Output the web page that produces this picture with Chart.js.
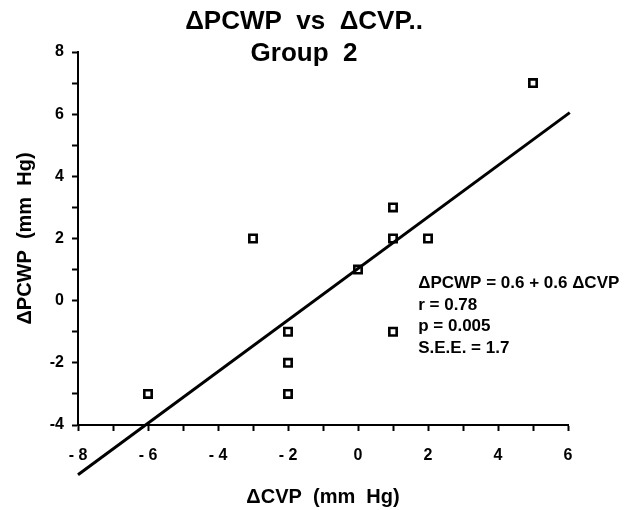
<!DOCTYPE html>
<html>
<head>
<meta charset="utf-8">
<script src="https://cdn.jsdelivr.net/npm/chart.js@4/dist/chart.umd.min.js"></script>
<style>
html,body{margin:0;padding:0;background:#fff;}
#wrap{width:633px;height:510px;position:relative;}
</style>
</head>
<body>
<div id="wrap"><canvas id="c" width="633" height="510"></canvas></div>
<script>
// Data
const dCVP   = [-6, -3, -2, -2, -2, 0, 1, 1, 1, 2, 5];
const dPCWP  = [-3,  2, -1, -2, -3, 1, 3, 2, -1, 2, 7];
// regression line endpoints as drawn
const lineX = [-8, 6.05];
const lineY = [-5.6, 6.05];
const titleLines = ['\u0394PCWP  vs  \u0394CVP..', 'Group  2'];
const statsLines = ['\u0394PCWP = 0.6 + 0.6 \u0394CVP', 'r = 0.78', 'p = 0.005', 'S.E.E. = 1.7'];
const xTickLabels = {'-8':'- 8','-6':'- 6','-4':'- 4','-2':'- 2','0':'0','2':'2','4':'4','6':'6'};
const yTickLabels = {'-4':'-4','-2':'-2','0':'0','2':'2','4':'4','6':'6','8':'8'};

const FONT = '"Liberation Sans", Arial, Helvetica, sans-serif';

const textPlugin = {
  id: 'texts',
  afterDraw(chart) {
    const ctx = chart.ctx;
    ctx.save();
    ctx.fillStyle = '#000';
    ctx.font = 'bold 26px ' + FONT;
    ctx.textAlign = 'center';
    ctx.textBaseline = 'middle';
    ctx.fillText(titleLines[0], 304, 22);
    ctx.fillText(titleLines[1], 304, 54);
    ctx.font = 'bold 17px ' + FONT;
    ctx.textAlign = 'left';
    const x0 = chart.scales.x.getPixelForValue(1.72);
    statsLines.forEach((s, i) => {
      ctx.fillText(s, x0, chart.scales.y.getPixelForValue(0.55) + i * 21.5);
    });
    ctx.restore();
  }
};

const pts = dCVP.map((x, i) => ({x: x, y: dPCWP[i]}));
const line = lineX.map((x, i) => ({x: x, y: lineY[i]}));

new Chart(document.getElementById('c'), {
  type: 'scatter',
  data: {
    datasets: [
      {
        type: 'line',
        data: line,
        borderColor: '#000',
        borderWidth: 3,
        pointRadius: 0,
        fill: false,
        clip: false
      },
      {
        data: pts,
        pointStyle: 'rect',
        pointRadius: 5.2,
        pointBorderWidth: 2.6,
        pointBorderColor: '#000',
        pointBackgroundColor: '#fff'
      }
    ]
  },
  options: {
    responsive: false,
    animation: false,
    layout: { padding: { left: 0, right: 65, top: 52, bottom: 0 } },
    plugins: { legend: { display: false }, tooltip: { enabled: false }, title: { display: false } },
    scales: {
      x: {
        type: 'linear',
        min: -8, max: 6,
        afterFit(s) { s.height = 85; },
        grid: { drawOnChartArea: false, drawTicks: true, tickLength: 6, color: '#000', tickWidth: 2 },
        border: { display: true, color: '#000', width: 2 },
        ticks: {
          stepSize: 1,
          autoSkip: false,
          maxRotation: 0,
          padding: 15,
          color: '#000',
          font: { family: FONT, size: 16, weight: 'bold' },
          callback: v => (xTickLabels[String(v)] !== undefined ? xTickLabels[String(v)] : '')
        },
        title: {
          display: true,
          text: '\u0394CVP  (mm  Hg)',
          color: '#000',
          font: { family: FONT, size: 20, weight: 'bold' },
          padding: { top: 0, bottom: 1 }
        }
      },
      y: {
        type: 'linear',
        min: -4, max: 8,
        afterFit(s) { s.width = 78; },
        grid: { drawOnChartArea: false, drawTicks: true, tickLength: 6, color: '#000', tickWidth: 2 },
        border: { display: true, color: '#000', width: 2 },
        ticks: {
          stepSize: 1,
          autoSkip: false,
          padding: 8,
          color: '#000',
          font: { family: FONT, size: 16, weight: 'bold' },
          callback: v => (yTickLabels[String(v)] !== undefined ? yTickLabels[String(v)] : '')
        },
        title: {
          display: true,
          text: '\u0394PCWP  (mm  Hg)',
          color: '#000',
          font: { family: FONT, size: 20, weight: 'bold' },
          padding: { top: 13, bottom: 0 }
        }
      }
    }
  },
  plugins: [textPlugin]
});
</script>
</body>
</html>
